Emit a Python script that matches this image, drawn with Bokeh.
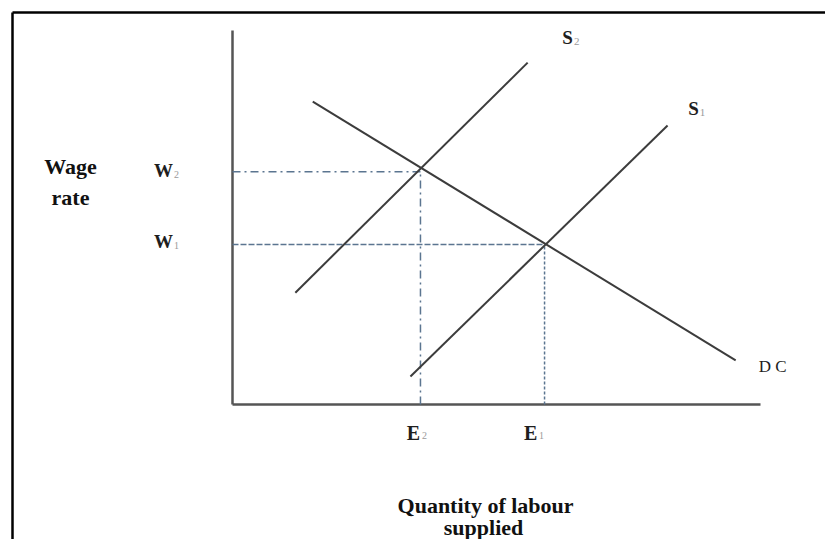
from bokeh.plotting import figure
from bokeh.models import Range1d
from bokeh.core.properties import value
from bokeh.embed import file_html
from bokeh.resources import INLINE

# ---- data (arbitrary units: quantity 0-10, wage 0-10) ----
axis_max = [10, 10]
s2_x = [1.19, 5.59]
s2_y = [2.99, 9.14]
s1_x = [3.37, 8.24]
s1_y = [0.75, 7.46]
dc_x = [1.52, 9.53]
dc_y = [8.10, 1.18]
eq_q = [3.56, 5.91]          # E2, E1
eq_w = [6.22, 4.28]          # W2, W1
q_labels = ["E", "E"]
q_subs = ["2", "1"]
w_labels = ["W", "W"]
w_subs = ["2", "1"]

W, H = 825, 539
PXX, PXY = 52.8, 37.4   # pixels per unit
OX, OY = 232, 404       # origin in figure pixels

x0, x1 = -OX / PXX, (W - OX) / PXX
y0, y1 = (OY - H) / PXY, OY / PXY

p = figure(width=W, height=H, output_backend="svg", toolbar_location=None,
           x_range=Range1d(x0, x1), y_range=Range1d(y0, y1),
           min_border=0, outline_line_color=None)
p.axis.visible = False
p.grid.visible = False
p.background_fill_color = "white"
p.border_fill_color = "white"

# frame of the picture (top and left edges)
fx = -(OX - 12) / PXX
fy = (OY - 12) / PXY
p.line([fx, x1 + 1], [fy, fy], line_color="black", line_width=2.5)
p.line([fx, fx], [fy, y0 - 1], line_color="black", line_width=2.5)

# axes
p.line([0, 0], [0, axis_max[1]], line_color="#555555", line_width=2.5)
p.line([0, axis_max[0]], [0, 0], line_color="#555555", line_width=2.5)

# guide lines
gc = "#5b7590"
p.line([0, eq_q[0]], [eq_w[0], eq_w[0]], line_color=gc, line_width=1.5, line_dash="8 4 2 4")
p.line([eq_q[0], eq_q[0]], [0, eq_w[0]], line_color=gc, line_width=1.5, line_dash="8 4 2 4")
p.line([0, eq_q[1]], [eq_w[1], eq_w[1]], line_color=gc, line_width=1.5, line_dash="6 2")
p.line([eq_q[1], eq_q[1]], [0, eq_w[1]], line_color=gc, line_width=1.5, line_dash="3 2")

# curves
lc = "#3c3c3c"
p.line(s2_x, s2_y, line_color=lc, line_width=2)
p.line(s1_x, s1_y, line_color=lc, line_width=2)
p.line(dc_x, dc_y, line_color=lc, line_width=2)

serif = value("Liberation Serif")
sub_col = "#9a9a9a"
dark = "#1e1e1e"

# curve labels
p.text(x=[s2_x[1]], y=[s2_y[1]], text=["S"], x_offset=40, y_offset=-25,
       text_font=serif, text_font_size="19px", text_font_style="bold", text_color=dark,
       text_align="center", text_baseline="middle")
p.text(x=[s2_x[1]], y=[s2_y[1]], text=["2"], x_offset=49, y_offset=-21,
       text_font=serif, text_font_size="11px", text_color=sub_col,
       text_align="center", text_baseline="middle")
p.text(x=[s1_x[1]], y=[s1_y[1]], text=["S"], x_offset=26, y_offset=-17,
       text_font=serif, text_font_size="19px", text_font_style="bold", text_color=dark,
       text_align="center", text_baseline="middle")
p.text(x=[s1_x[1]], y=[s1_y[1]], text=["1"], x_offset=35, y_offset=-13,
       text_font=serif, text_font_size="11px", text_color=sub_col,
       text_align="center", text_baseline="middle")
p.text(x=[dc_x[1]], y=[dc_y[1]], text=["D C"], x_offset=37, y_offset=6,
       text_font=serif, text_font_size="17px", text_color=dark,
       text_align="center", text_baseline="middle")

# wage tick labels
p.text(x=[0, 0], y=eq_w, text=w_labels, x_offset=-69, y_offset=[-1, -3],
       text_font=serif, text_font_size="19px", text_font_style="bold", text_color=dark,
       text_align="center", text_baseline="middle")
p.text(x=[0, 0], y=eq_w, text=w_subs, x_offset=-56, y_offset=[3, 1],
       text_font=serif, text_font_size="10px", text_color=sub_col,
       text_align="center", text_baseline="middle")

# quantity tick labels
p.text(x=eq_q, y=[0, 0], text=q_labels, x_offset=[-7, -14], y_offset=28,
       text_font=serif, text_font_size="20px", text_font_style="bold", text_color=dark,
       text_align="center", text_baseline="middle")
p.text(x=eq_q, y=[0, 0], text=q_subs, x_offset=[4, -3], y_offset=31,
       text_font=serif, text_font_size="10px", text_color=sub_col,
       text_align="center", text_baseline="middle")

# axis titles
p.text(x=[0, 0], y=[eq_w[0], eq_w[0]], text=["Wage", "rate"], x_offset=-162, y_offset=[-5, 26],
       text_font=serif, text_font_size="22px", text_font_style="bold", text_color="#111111",
       text_align="center", text_baseline="middle")
p.text(x=[eq_q[1], eq_q[1]], y=[0, 0], text=["Quantity of labour", "supplied"],
       x_offset=[-59, -61], y_offset=[101, 123],
       text_font=serif, text_font_size="22px", text_font_style="bold", text_color="#111111",
       text_align="center", text_baseline="middle")

open("out.html", "w").write(file_html(p, INLINE))
